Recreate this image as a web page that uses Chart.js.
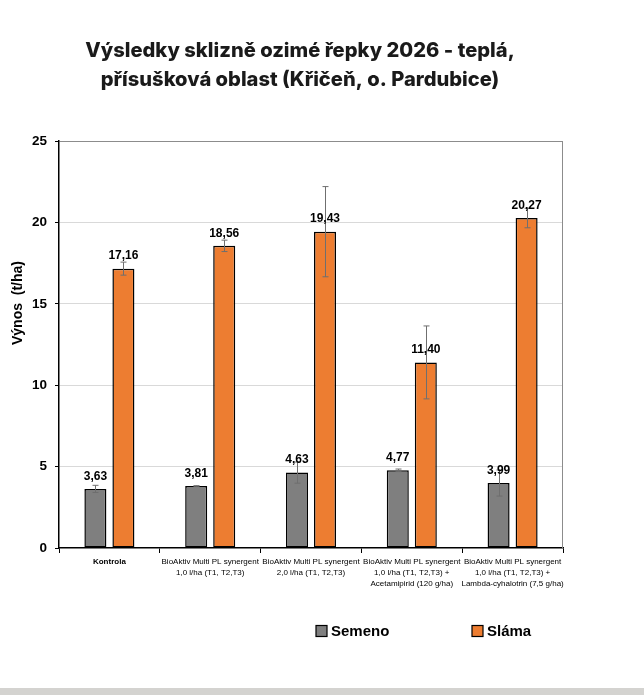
<!DOCTYPE html>
<html><head><meta charset="utf-8">
<script src="https://cdn.jsdelivr.net/npm/chart.js@4"></script>
<style>
html,body{margin:0;padding:0;background:#fff;overflow:hidden}
#wrap{position:relative;width:644px;height:695px}
#band{position:absolute;left:0;top:688px;width:644px;height:7px;background:#d4d3d0}
</style></head><body>
<div id="wrap"><canvas id="c" width="644" height="695"></canvas><div id="band"></div></div>
<script>
// ---- data ----
const categories = [
  ["Kontrola"],
  ["BioAktiv Multi PL synergent", "1,0 l/ha (T1, T2,T3)"],
  ["BioAktiv Multi PL synergent", "2,0 l/ha (T1, T2,T3)"],
  ["BioAktiv Multi PL synergent", "1,0 l/ha (T1, T2,T3) +", "Acetamipirid (120 g/ha)"],
  ["BioAktiv Multi PL synergent", "1,0 l/ha (T1, T2,T3) +", "Lambda-cyhalotrin (7,5 g/ha)"]
];
const seriesNames = ["Semeno", "Sláma"];
const semeno = [3.63, 3.81, 4.63, 4.77, 3.99];
const slama = [17.16, 18.56, 19.43, 11.40, 20.27];
const semenoErr = [0.22, 0.02, 0.65, 0.08, 0.8];
const slamaErr = [0.4, 0.35, 2.77, 2.24, 0.6];
const yTickValues = [0, 5, 10, 15, 20, 25];
const titleLines = ["Výsledky sklizně ozimé řepky 2026 - teplá,", "přísušková oblast (Křičeň, o. Pardubice)"];
const yTitle = "Výnos  (t/ha)";

// ---- styles ----
const colors = ["#7f7f7f", "#ed7d31"];
const errs = [semenoErr, slamaErr];
const fmt = v => v.toFixed(2).replace('.', ',');

const annot = {
  id: 'annot',
  afterDatasetsDraw(chart) {
    const ctx = chart.ctx, ys = chart.scales.y, a = chart.chartArea;
    ctx.save();
    // right frame
    ctx.strokeStyle = '#8c8c8c'; ctx.lineWidth = 1;
    ctx.beginPath(); ctx.moveTo(a.right - 0.5, a.top); ctx.lineTo(a.right - 0.5, a.bottom); ctx.stroke();
    // error bars
    ctx.strokeStyle = '#6f6f6f'; ctx.lineWidth = 1;
    chart.data.datasets.forEach((ds, di) => {
      const meta = chart.getDatasetMeta(di);
      meta.data.forEach((bar, i) => {
        const v = ds.data[i], e = errs[di][i];
        const yt = ys.getPixelForValue(v + e), yb = ys.getPixelForValue(v - e);
        const x = Math.round(bar.x) + 0.5;
        ctx.beginPath();
        ctx.moveTo(x, yt); ctx.lineTo(x, yb);
        ctx.moveTo(x - 3, yt); ctx.lineTo(x + 3, yt);
        ctx.moveTo(x - 3, yb); ctx.lineTo(x + 3, yb);
        ctx.stroke();
      });
    });
    // data labels
    ctx.fillStyle = '#000';
    ctx.font = 'bold 12px "Liberation Sans", Arial, sans-serif';
    ctx.textAlign = 'center'; ctx.textBaseline = 'middle';
    chart.data.datasets.forEach((ds, di) => {
      const meta = chart.getDatasetMeta(di);
      meta.data.forEach((bar, i) => {
        ctx.fillText(fmt(ds.data[i]), bar.x, bar.y - 12.5);
      });
    });
    ctx.restore();
  },
  afterDraw(chart) {
    const ctx = chart.ctx;
    ctx.save();
    // title
    ctx.fillStyle = '#1a1a1a';
    ctx.textAlign = 'center'; ctx.textBaseline = 'alphabetic';
    let fs = 21;
    ctx.font = `800 ${fs}px Inter, "Open Sans", sans-serif`;
    const w = ctx.measureText(titleLines[0]).width;
    fs = fs * 430 / w;
    ctx.font = `800 ${fs}px Inter, "Open Sans", sans-serif`;
    ctx.fillText(titleLines[0], 300, 56.5);
    ctx.fillText(titleLines[1], 300, 86);
    // y title
    ctx.fillStyle = '#000';
    ctx.font = 'bold 14px "Liberation Sans", Arial, sans-serif';
    ctx.translate(18, 303); ctx.rotate(-Math.PI / 2);
    ctx.textBaseline = 'middle';
    ctx.fillText(yTitle, 0, 0);
    ctx.setTransform(chart.currentDevicePixelRatio, 0, 0, chart.currentDevicePixelRatio, 0, 0);
    // legend
    const legX = [316, 472];
    ctx.font = 'bold 15px "Liberation Sans", Arial, sans-serif';
    ctx.textAlign = 'left'; ctx.textBaseline = 'middle';
    seriesNames.forEach((n, i) => {
      const x = legX[i], y = 631;
      ctx.fillStyle = colors[i];
      ctx.fillRect(x, y - 5.5, 11, 11);
      ctx.strokeStyle = '#000'; ctx.lineWidth = 1.2;
      ctx.strokeRect(x, y - 5.5, 11, 11);
      ctx.fillStyle = '#000';
      ctx.fillText(n, x + 15, y + 0.5);
    });
    ctx.restore();
  }
};

new Chart(document.getElementById('c'), {
  type: 'bar',
  data: {
    labels: categories,
    datasets: [
      { label: seriesNames[0], data: semeno, backgroundColor: colors[0], borderColor: '#000', borderWidth: 1.5, borderSkipped: false },
      { label: seriesNames[1], data: slama, backgroundColor: colors[1], borderColor: '#000', borderWidth: 1.5, borderSkipped: false }
    ]
  },
  options: {
    responsive: false,
    animation: false,
    categoryPercentage: 0.556,
    barPercentage: 0.786,
    layout: { padding: { left: 0, right: 81, top: 141, bottom: 97 } },
    plugins: { legend: { display: false }, title: { display: false }, tooltip: { enabled: false } },
    scales: {
      x: {
        offset: true,
        border: { color: '#000', width: 1.5 },
        grid: { offset: true, drawOnChartArea: false, drawTicks: true, tickLength: 5, tickColor: '#000' },
        ticks: {
          color: '#000', padding: 3.5, maxRotation: 0, minRotation: 0, autoSkip: false,
          font: (c) => ({ family: '"Liberation Sans", Arial, sans-serif', size: 8, lineHeight: 1.38, weight: c.index === 0 ? 'bold' : 'normal' })
        },
        afterFit: (s) => { s.height = 50; }
      },
      y: {
        min: 0, max: 25,
        border: { color: '#000', width: 1.5 },
        grid: {
          color: (c) => c.tick.value === 0 ? 'rgba(0,0,0,0)' : (c.tick.value === 25 ? '#8c8c8c' : '#d9d9d9'),
          tickColor: '#000', tickLength: 4, lineWidth: 1
        },
        afterBuildTicks: (s) => { s.ticks = yTickValues.map(v => ({ value: v })); },
        ticks: { color: '#000', padding: 8, font: { family: '"Liberation Sans", Arial, sans-serif', size: 13.5, weight: 'bold' } },
        afterFit: (s) => { s.width = 59; }
      }
    }
  },
  plugins: [annot]
});
</script>
</body></html>
